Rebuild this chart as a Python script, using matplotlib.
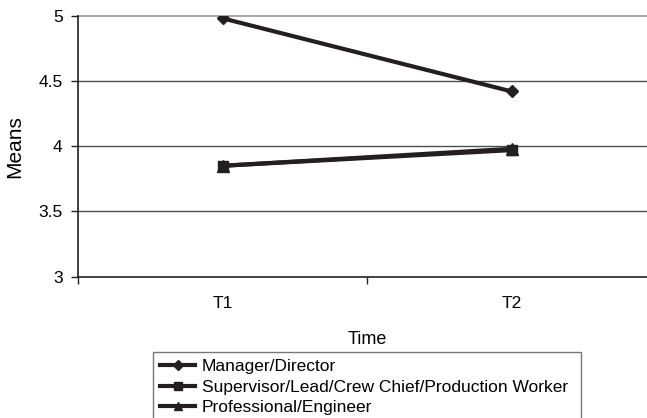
import matplotlib.pyplot as plt

plt.rcParams['font.family'] = ['Liberation Sans', 'DejaVu Sans']

times = ['T1', 'T2']
manager = [4.98, 4.42]
supervisor = [3.85, 3.97]
professional = [3.85, 3.98]
series_names = ['Manager/Director',
                'Supervisor/Lead/Crew Chief/Production Worker',
                'Professional/Engineer']

ink = '#231f20'
fs = 12.5

fig = plt.figure(figsize=(6.47, 4.18), dpi=100)
# plot area runs past the right edge in the original picture
ax = fig.add_axes([78 / 647, 1 - 276.7 / 418, 578 / 647, 261 / 418])

x = range(len(times))
ax.plot(x, manager, color=ink, lw=3, marker='D', ms=6, label=series_names[0], zorder=3)
ax.plot(x, supervisor, color=ink, lw=3, marker='s', ms=7, label=series_names[1], zorder=3)
ax.plot(x, professional, color=ink, lw=3, marker='^', ms=8, label=series_names[2], zorder=3)

ax.set_xlim(-0.5, 1.5)
ax.set_ylim(3, 5)
ax.set_yticks([3, 3.5, 4, 4.5, 5])
ax.set_yticklabels(['3', '3.5', '4', '4.5', '5'], fontsize=fs)
for v in [3.5, 4, 4.5]:
    ax.axhline(v, color='#4d4d4d', lw=1, zorder=1)
ax.axhline(5, color='#9a9a9a', lw=1.2, zorder=1, clip_on=False)

ax.set_xticks([-0.5, 0.5, 1.5])
ax.set_xticklabels([])
ax.set_xticks(list(x), minor=True)
ax.set_xticklabels(times, minor=True, fontsize=fs)
ax.tick_params(axis='x', which='minor', length=0, pad=14)
ax.tick_params(axis='x', which='major', length=5, width=1, color=ink, direction='out')
ax.tick_params(axis='y', length=5, width=1, color=ink, direction='out', pad=6)

for s in ['top', 'right']:
    ax.spines[s].set_visible(False)
for s in ['left', 'bottom']:
    ax.spines[s].set_color(ink)
    ax.spines[s].set_linewidth(1.2)

ax.set_xlabel('Time', fontsize=13, labelpad=14)
ax.set_ylabel('Means', fontsize=15, labelpad=10)

leg = fig.legend(loc='upper left',
                 bbox_to_anchor=(153 / 647, 0, 428 / 647, 1 - 352 / 418),
                 mode='expand', fontsize=fs, frameon=True, fancybox=False,
                 handlelength=2.0, handletextpad=0.4, labelspacing=0.3,
                 borderpad=0.42, borderaxespad=0, markerscale=0.8)
leg.get_frame().set_edgecolor('#555555')
leg.get_frame().set_linewidth(1)

plt.savefig('out.png', dpi=100)
